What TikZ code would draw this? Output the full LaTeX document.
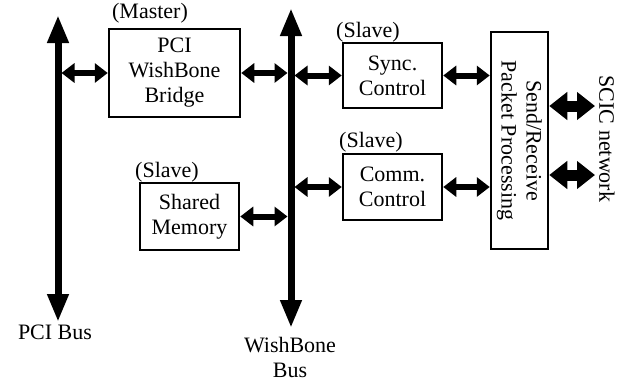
\documentclass[tikz,border=0pt]{standalone}
\usepackage{fontspec}
\setmainfont{Liberation Serif}
\usetikzlibrary{arrows.meta}

\tikzset{
  box/.style={draw, line width=2.5pt, inner sep=0pt, align=center},
  dbl/.style={line width=6pt, {Triangle[width=19pt,length=13pt]}-{Triangle[width=19pt,length=13pt]}},
  bus/.style={line width=7pt, {Triangle[width=20pt,length=28pt]}-{Triangle[width=20pt,length=28pt]}},
  net/.style={line width=11pt, {Triangle[width=27pt,length=18pt]}-{Triangle[width=27pt,length=18pt]}},
}

\begin{document}
\begin{tikzpicture}[x=1pt, y=-1pt, font=\fontsize{22}{25}\selectfont]
            \useasboundingbox (0,0) rectangle (630,383);

            % Bus PCI et bus WishBone
            \coordinate (pcitop) at (58,15);
            \coordinate (pcibot) at (58,322);
            \coordinate (wbtop) at (291,8);
            \coordinate (wbbot) at (291,328);
            \draw[bus] (pcitop) -- (pcibot);
            \draw[bus] (wbtop) -- (wbbot);
            \node (pcilbl) at (55,332) {PCI Bus};
            \node[align=center] (wblbl) at (290,357) {WishBone\\Bus};

            % Blocs
            \node[box, minimum width=131, minimum height=88] (bridge) at (174.5,73) {PCI\\WishBone\\Bridge};
            \node[box, minimum width=99, minimum height=67] (shared) at (189.5,216.5) {Shared\\Memory};
            \node[box, minimum width=99, minimum height=65] (sync) at (392.5,75.5) {Sync.\\Control};
            \node[box, minimum width=99, minimum height=66] (comm) at (392.5,187) {Comm.\\Control};
            \node[box, minimum width=57, minimum height=217] (sr) at (519.5,140.5) {};
            \node[rotate=-90, align=center] (srtxt) at (sr.center) {Send/Receive\\Packet Processing};

            % Roles
            \node (master) at (150,13) {(Master)};
            \node (slshared) at (167,172) {(Slave)};
            \node (slsync) at (368,32) {(Slave)};
            \node (slcomm) at (371,142) {(Slave)};

            % Liaisons
            \draw[dbl, shorten <=3.5pt] (bridge.west -| pcitop) -- (bridge.west);
            \draw[dbl, shorten >=3.5pt] (bridge.east) -- (bridge.east -| wbtop);
            \draw[dbl, shorten >=3.5pt] (shared.east) -- (shared.east -| wbtop);
            \draw[dbl, shorten <=3.5pt] (sync.west -| wbtop) -- (sync.west);
            \draw[dbl, shorten <=3.5pt] (comm.west -| wbtop) -- (comm.west);
            \draw[dbl] (sync.east) -- (sync.east -| sr.west);
            \draw[dbl] (comm.east) -- (comm.east -| sr.west);

            % Reseau SCIC
            \coordinate (scic1) at (595,106);
            \coordinate (scic2) at (595,175);
            \draw[net] (sr.east |- scic1) -- (scic1);
            \draw[net] (sr.east |- scic2) -- (scic2);
            \node[rotate=-90] (scic) at (607,139) {SCIC network};
\end{tikzpicture}
\end{document}
